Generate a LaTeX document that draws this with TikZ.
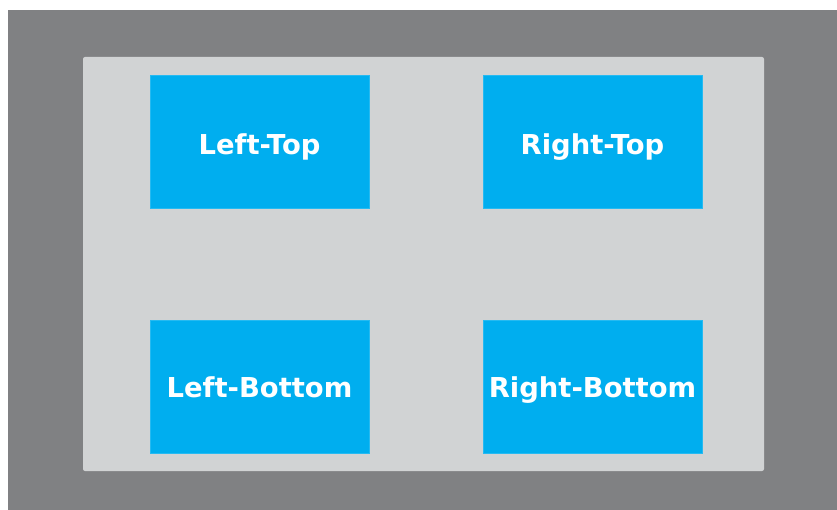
\documentclass[tikz,border=0pt]{standalone}
\usepackage{fontspec}
\setmainfont{DejaVu Sans}
\usepackage{xcolor}
\usepackage{tikz}
\usetikzlibrary{positioning}
\definecolor{outergray}{RGB}{128,129,131}
\definecolor{panelgray}{RGB}{209,211,212}
\definecolor{cellblue}{RGB}{0,174,239}
\tikzset{
  cellbox/.style={rectangle, draw=cellblue!85!white, line width=0.6pt, fill=cellblue,
                  minimum width=219pt, minimum height=133pt, inner sep=0pt},
  celltext/.style={anchor=base, inner sep=0pt, text=white,
                   font=\fontsize{27.4}{30}\selectfont\bfseries},
}
\begin{document}
\begin{tikzpicture}[x=1pt, y=-1pt]
  \useasboundingbox[fill=white] (0,0) rectangle (837,510);
  \fill[outergray] (8,10) rectangle (837,510);
  \fill[panelgray, rounded corners=2pt] (83,57) rectangle (764,471);
  % the four cells
  \node[cellbox] (lt) at (259.5,141.5) {};
  \node[cellbox] (rt) at (592.5,141.5) {};
  \node[cellbox] (lb) at (259.5,386.5) {};
  \node[cellbox] (rb) at (592.5,386.5) {};
  \node[celltext] (ltlbl) at ([yshift=-13.5pt]lt.center) {Left-Top};
  \node[celltext] (rtlbl) at ([yshift=-13.5pt]rt.center) {Right-Top};
  \node[celltext] (lblbl) at ([yshift=-10.5pt]lb.center) {Left-Bottom};
  \node[celltext] (rblbl) at ([yshift=-10.5pt]rb.center) {Right-Bottom};
\end{tikzpicture}
\end{document}
